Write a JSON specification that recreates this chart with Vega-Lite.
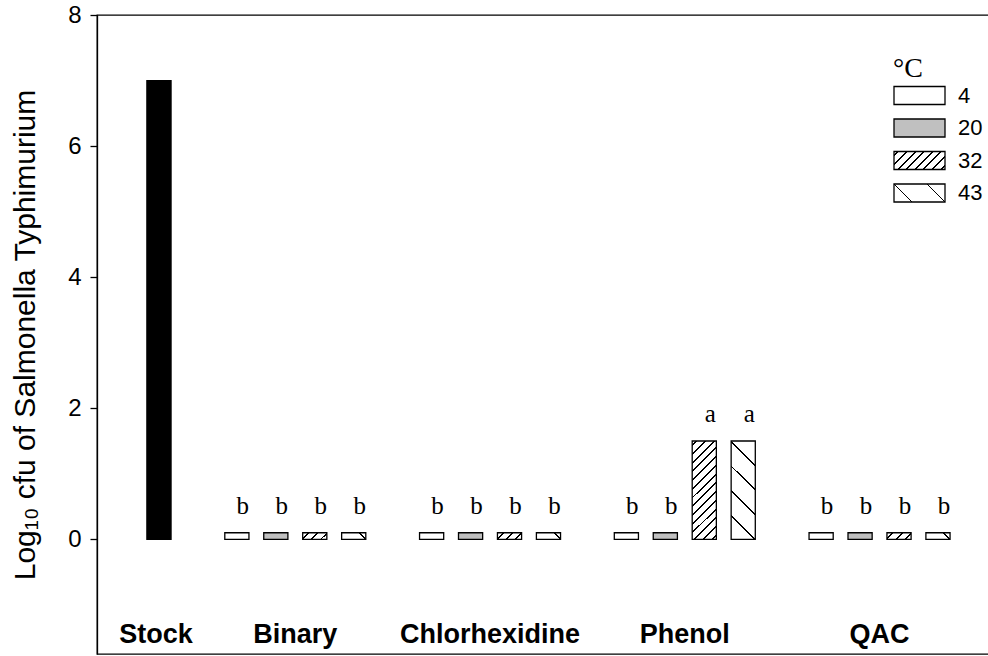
{
  "$schema": "https://vega.github.io/schema/vega-lite/v6.json",
  "width": 892,
  "height": 639,
  "autosize": "none",
  "padding": {"left": 97, "top": 15, "right": 0, "bottom": 2},
  "background": "white",
  "config": {
    "view": {"stroke": "#000000", "strokeWidth": 1.3}
  },
  "data": {
    "values": [
      {"agent": "Stock", "temp": "Stock", "bar": "Stock", "log": 7.0, "letter": ""},
      {"agent": "Binary", "temp": "4", "bar": "Binary 4", "log": 0.1, "letter": "b"},
      {"agent": "Binary", "temp": "20", "bar": "Binary 20", "log": 0.1, "letter": "b"},
      {"agent": "Binary", "temp": "32", "bar": "Binary 32", "log": 0.1, "letter": "b"},
      {"agent": "Binary", "temp": "43", "bar": "Binary 43", "log": 0.1, "letter": "b"},
      {"agent": "Chlorhexidine", "temp": "4", "bar": "Chlorhexidine 4", "log": 0.1, "letter": "b"},
      {"agent": "Chlorhexidine", "temp": "20", "bar": "Chlorhexidine 20", "log": 0.1, "letter": "b"},
      {"agent": "Chlorhexidine", "temp": "32", "bar": "Chlorhexidine 32", "log": 0.1, "letter": "b"},
      {"agent": "Chlorhexidine", "temp": "43", "bar": "Chlorhexidine 43", "log": 0.1, "letter": "b"},
      {"agent": "Phenol", "temp": "4", "bar": "Phenol 4", "log": 0.1, "letter": "b"},
      {"agent": "Phenol", "temp": "20", "bar": "Phenol 20", "log": 0.1, "letter": "b"},
      {"agent": "Phenol", "temp": "32", "bar": "Phenol 32", "log": 1.5, "letter": "a"},
      {"agent": "Phenol", "temp": "43", "bar": "Phenol 43", "log": 1.5, "letter": "a"},
      {"agent": "QAC", "temp": "4", "bar": "QAC 4", "log": 0.1, "letter": "b"},
      {"agent": "QAC", "temp": "20", "bar": "QAC 20", "log": 0.1, "letter": "b"},
      {"agent": "QAC", "temp": "32", "bar": "QAC 32", "log": 0.1, "letter": "b"},
      {"agent": "QAC", "temp": "43", "bar": "QAC 43", "log": 0.1, "letter": "b"}
    ]
  },
  "encoding": {
    "x": {
      "field": "bar",
      "type": "nominal",
      "sort": null,
      "axis": null,
      "scale": {
        "domain": ["Stock", "gap 1",
                   "Binary 4", "Binary 20", "Binary 32", "Binary 43", "gap 2",
                   "Chlorhexidine 4", "Chlorhexidine 20", "Chlorhexidine 32", "Chlorhexidine 43", "gap 3",
                   "Phenol 4", "Phenol 20", "Phenol 32", "Phenol 43", "gap 4",
                   "QAC 4", "QAC 20", "QAC 32", "QAC 43", "gap 5"],
        "paddingInner": 0.38,
        "paddingOuter": 0.6405,
        "align": 1
      }
    }
  },
  "layer": [
    {
      "mark": {"type": "bar", "stroke": "#000000", "strokeWidth": 1.3},
      "encoding": {
        "y": {
          "field": "log",
          "type": "quantitative",
          "scale": {"domain": [-1.75, 8], "nice": false, "zero": false},
          "axis": {
            "values": [0, 2, 4, 6, 8],
            "format": "d",
            "grid": false,
            "tickSize": 7,
            "tickColor": "#000000",
            "tickWidth": 1.3,
            "domainColor": "#000000",
            "domainWidth": 1.3,
            "labelFont": "Liberation Sans",
            "labelFontSize": 24,
            "labelColor": "#000000",
            "labelPadding": 9,
            "title": "Log₁₀ cfu of Salmonella Typhimurium",
            "titleFont": "Liberation Sans",
            "titleFontSize": 30,
            "titleFontWeight": "normal",
            "titleColor": "#000000",
            "titlePadding": 27
          }
        },
        "fill": {
          "field": "temp",
          "type": "nominal",
          "scale": {
            "domain": ["Stock", "4", "20", "32", "43"],
            "range": [
              "#000000",
              "#ffffff",
              "#c0c0c0",
              {"expr": "{gradient: 'linear', x1: 0, y1: 0, x2: 1.2031, y2: 0.4246, stops: [{offset: 0.0485, color: '#ffffff'}, {offset: 0.0485, color: '#000000'}, {offset: 0.0765, color: '#000000'}, {offset: 0.0765, color: '#ffffff'}, {offset: 0.1735, color: '#ffffff'}, {offset: 0.1735, color: '#000000'}, {offset: 0.2015, color: '#000000'}, {offset: 0.2015, color: '#ffffff'}, {offset: 0.2985, color: '#ffffff'}, {offset: 0.2985, color: '#000000'}, {offset: 0.3265, color: '#000000'}, {offset: 0.3265, color: '#ffffff'}, {offset: 0.4235, color: '#ffffff'}, {offset: 0.4235, color: '#000000'}, {offset: 0.4515, color: '#000000'}, {offset: 0.4515, color: '#ffffff'}, {offset: 0.5485, color: '#ffffff'}, {offset: 0.5485, color: '#000000'}, {offset: 0.5765, color: '#000000'}, {offset: 0.5765, color: '#ffffff'}, {offset: 0.6735, color: '#ffffff'}, {offset: 0.6735, color: '#000000'}, {offset: 0.7015, color: '#000000'}, {offset: 0.7015, color: '#ffffff'}, {offset: 0.7985, color: '#ffffff'}, {offset: 0.7985, color: '#000000'}, {offset: 0.8265, color: '#000000'}, {offset: 0.8265, color: '#ffffff'}, {offset: 0.9235, color: '#ffffff'}, {offset: 0.9235, color: '#000000'}, {offset: 0.9515, color: '#000000'}, {offset: 0.9515, color: '#ffffff'}]}"},
              {"expr": "{gradient: 'linear', x1: 0, y1: 1, x2: 1.2031, y2: 0.5754, stops: [{offset: 0.247, color: '#ffffff'}, {offset: 0.247, color: '#000000'}, {offset: 0.275, color: '#000000'}, {offset: 0.275, color: '#ffffff'}, {offset: 0.725, color: '#ffffff'}, {offset: 0.725, color: '#000000'}, {offset: 0.753, color: '#000000'}, {offset: 0.753, color: '#ffffff'}]}"}
            ]
          },
          "legend": {
            "values": ["4", "20", "32", "43"],
            "title": "°C",
            "orient": "none",
            "legendX": 796,
            "legendY": 40,
            "padding": 0,
            "titleFont": "Liberation Serif",
            "titleFontSize": 28,
            "titleFontWeight": "normal",
            "titleColor": "#000000",
            "titlePadding": 1.5,
            "labelFont": "Liberation Sans",
            "labelFontSize": 22,
            "labelColor": "#000000",
            "labelOffset": 12,
            "rowPadding": 10.5,
            "clipHeight": 22,
            "symbolType": "M-1,-0.353H1V0.353H-1Z",
            "symbolSize": 2601,
            "symbolStrokeColor": "#000000",
            "symbolStrokeWidth": 1.3,
            "symbolOpacity": 1
          },
          "condition": [
            {
              "test": "datum.temp === '32' && datum.log > 1",
              "value": {
                "gradient": "linear", "x1": 0, "y1": 0, "x2": 0.2868, "y2": 1.1742,
                "stops": [
                  {"offset": 0.0277, "color": "#ffffff"}, {"offset": 0.0277, "color": "#000000"}, {"offset": 0.0437, "color": "#000000"}, {"offset": 0.0437, "color": "#ffffff"},
                  {"offset": 0.0991, "color": "#ffffff"}, {"offset": 0.0991, "color": "#000000"}, {"offset": 0.1151, "color": "#000000"}, {"offset": 0.1151, "color": "#ffffff"},
                  {"offset": 0.1706, "color": "#ffffff"}, {"offset": 0.1706, "color": "#000000"}, {"offset": 0.1866, "color": "#000000"}, {"offset": 0.1866, "color": "#ffffff"},
                  {"offset": 0.2420, "color": "#ffffff"}, {"offset": 0.2420, "color": "#000000"}, {"offset": 0.2580, "color": "#000000"}, {"offset": 0.2580, "color": "#ffffff"},
                  {"offset": 0.3134, "color": "#ffffff"}, {"offset": 0.3134, "color": "#000000"}, {"offset": 0.3294, "color": "#000000"}, {"offset": 0.3294, "color": "#ffffff"},
                  {"offset": 0.3849, "color": "#ffffff"}, {"offset": 0.3849, "color": "#000000"}, {"offset": 0.4009, "color": "#000000"}, {"offset": 0.4009, "color": "#ffffff"},
                  {"offset": 0.4563, "color": "#ffffff"}, {"offset": 0.4563, "color": "#000000"}, {"offset": 0.4723, "color": "#000000"}, {"offset": 0.4723, "color": "#ffffff"},
                  {"offset": 0.5277, "color": "#ffffff"}, {"offset": 0.5277, "color": "#000000"}, {"offset": 0.5437, "color": "#000000"}, {"offset": 0.5437, "color": "#ffffff"},
                  {"offset": 0.5991, "color": "#ffffff"}, {"offset": 0.5991, "color": "#000000"}, {"offset": 0.6151, "color": "#000000"}, {"offset": 0.6151, "color": "#ffffff"},
                  {"offset": 0.6706, "color": "#ffffff"}, {"offset": 0.6706, "color": "#000000"}, {"offset": 0.6866, "color": "#000000"}, {"offset": 0.6866, "color": "#ffffff"},
                  {"offset": 0.7420, "color": "#ffffff"}, {"offset": 0.7420, "color": "#000000"}, {"offset": 0.7580, "color": "#000000"}, {"offset": 0.7580, "color": "#ffffff"},
                  {"offset": 0.8134, "color": "#ffffff"}, {"offset": 0.8134, "color": "#000000"}, {"offset": 0.8294, "color": "#000000"}, {"offset": 0.8294, "color": "#ffffff"},
                  {"offset": 0.8849, "color": "#ffffff"}, {"offset": 0.8849, "color": "#000000"}, {"offset": 0.9009, "color": "#000000"}, {"offset": 0.9009, "color": "#ffffff"},
                  {"offset": 0.9563, "color": "#ffffff"}, {"offset": 0.9563, "color": "#000000"}, {"offset": 0.9723, "color": "#000000"}, {"offset": 0.9723, "color": "#ffffff"}
                ]
              }
            },
            {
              "test": "datum.temp === '32'",
              "value": {
                "gradient": "linear", "x1": 0, "y1": 0, "x2": 1.1847, "y2": 0.3233,
                "stops": [
                  {"offset": 0.168, "color": "#ffffff"}, {"offset": 0.168, "color": "#000000"}, {"offset": 0.232, "color": "#000000"}, {"offset": 0.232, "color": "#ffffff"},
                  {"offset": 0.468, "color": "#ffffff"}, {"offset": 0.468, "color": "#000000"}, {"offset": 0.532, "color": "#000000"}, {"offset": 0.532, "color": "#ffffff"},
                  {"offset": 0.768, "color": "#ffffff"}, {"offset": 0.768, "color": "#000000"}, {"offset": 0.832, "color": "#000000"}, {"offset": 0.832, "color": "#ffffff"}
                ]
              }
            },
            {
              "test": "datum.temp === '43' && datum.log > 1",
              "value": {
                "gradient": "linear", "x1": 0, "y1": 1, "x2": 0.2868, "y2": -0.1742,
                "stops": [
                  {"offset": 0.188, "color": "#ffffff"}, {"offset": 0.188, "color": "#000000"}, {"offset": 0.204, "color": "#000000"}, {"offset": 0.204, "color": "#ffffff"},
                  {"offset": 0.389, "color": "#ffffff"}, {"offset": 0.389, "color": "#000000"}, {"offset": 0.405, "color": "#000000"}, {"offset": 0.405, "color": "#ffffff"},
                  {"offset": 0.590, "color": "#ffffff"}, {"offset": 0.590, "color": "#000000"}, {"offset": 0.606, "color": "#000000"}, {"offset": 0.606, "color": "#ffffff"},
                  {"offset": 0.792, "color": "#ffffff"}, {"offset": 0.792, "color": "#000000"}, {"offset": 0.808, "color": "#000000"}, {"offset": 0.808, "color": "#ffffff"}
                ]
              }
            },
            {
              "test": "datum.temp === '43'",
              "value": {
                "gradient": "linear", "x1": 0, "y1": 1, "x2": 1.1847, "y2": 0.6767,
                "stops": [
                  {"offset": 0.754, "color": "#ffffff"}, {"offset": 0.754, "color": "#000000"}, {"offset": 0.818, "color": "#000000"}, {"offset": 0.818, "color": "#ffffff"}
                ]
              }
            }
          ]
        }
      }
    },
    {
      "mark": {"type": "rule", "color": "#000000", "strokeWidth": 1.3},
      "encoding": {"y": {"datum": 0}}
    },
    {
      "transform": [{"filter": "datum.letter !== ''"}],
      "mark": {"type": "text", "font": "Liberation Serif", "fontSize": 25, "color": "#000000", "baseline": "alphabetic", "align": "center", "dx": 6, "dy": -19},
      "encoding": {
        "y": {"field": "log", "type": "quantitative"},
        "text": {"field": "letter"}
      }
    },
    {
      "transform": [{"filter": "datum.temp === '20'"}],
      "mark": {"type": "text", "font": "Liberation Sans", "fontWeight": "bold", "fontSize": 27, "color": "#000000", "baseline": "alphabetic", "align": "center", "dx": 19.5, "dy": -11},
      "encoding": {
        "y": {"value": "height"},
        "text": {"field": "agent"}
      }
    },
    {
      "transform": [{"filter": "datum.temp === 'Stock'"}],
      "mark": {"type": "text", "font": "Liberation Sans", "fontWeight": "bold", "fontSize": 27, "color": "#000000", "baseline": "alphabetic", "align": "center", "dx": -3, "dy": -11},
      "encoding": {
        "y": {"value": "height"},
        "text": {"field": "agent"}
      }
    }
  ]
}
